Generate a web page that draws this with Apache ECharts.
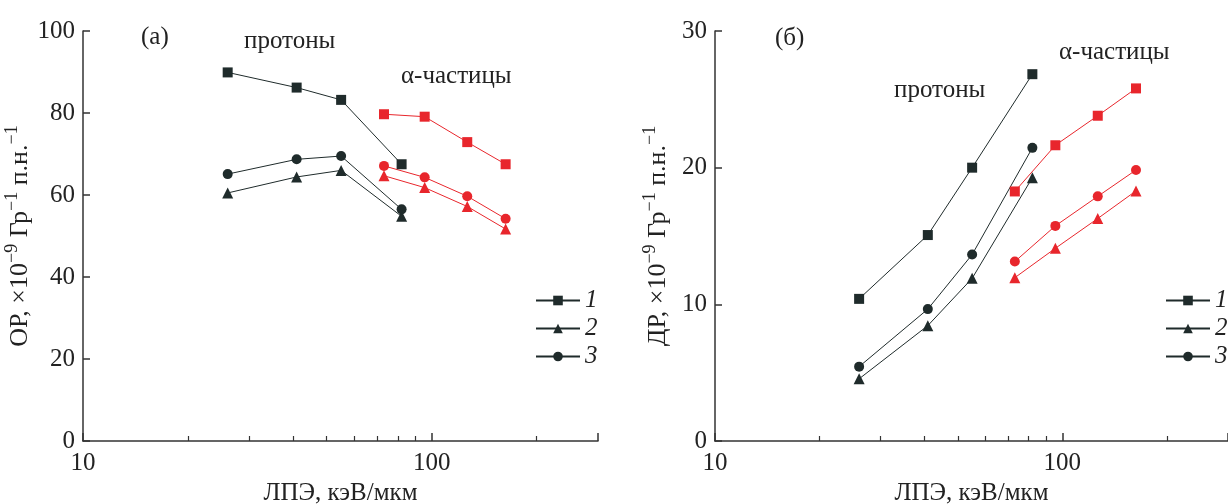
<!DOCTYPE html>
<html>
<head>
<meta charset="utf-8">
<script src="https://cdn.jsdelivr.net/npm/echarts@6/dist/echarts.min.js"></script>
<style>
    html, body { margin: 0; padding: 0; background: #fff; }
    #main { width: 1228px; height: 504px; }
</style>
</head>
<body>
<div id="main"></div>
<script>
    // ЛПЭ, кэВ/мкм
    var letProtons = [26, 41, 55, 82];
    var letAlpha = [73, 95.5, 126.5, 163];

    // (а) ОР
    var orProt1 = [89.9, 86.2, 83.2, 67.5];
    var orProt2 = [60.5, 64.4, 66.0, 54.8];
    var orProt3 = [65.1, 68.7, 69.5, 56.5];
    var orAlpha1 = [79.7, 79.1, 72.9, 67.5];
    var orAlpha2 = [64.7, 61.8, 57.2, 51.7];
    var orAlpha3 = [67.1, 64.3, 59.7, 54.2];

    // (б) ДР
    var drProt1 = [10.4, 15.07, 20.0, 26.84];
    var drProt2 = [4.55, 8.44, 11.9, 19.27];
    var drProt3 = [5.44, 9.65, 13.64, 21.45];
    var drAlpha1 = [18.26, 21.64, 23.8, 25.8];
    var drAlpha2 = [11.95, 14.1, 16.28, 18.3];
    var drAlpha3 = [13.13, 15.74, 17.9, 19.83];

    var majorX = [10, 100];
    var minorX = [20, 30, 40, 50, 60, 70, 80, 90, 200];
    var legendNames = ['1', '2', '3'];

    var dark = '#1f2b2b';
    var red = '#e8262c';
    var font = '"Liberation Serif", "DejaVu Serif", serif';

    function pairs(xs, ys) {
        return xs.map(function (x, i) { return [x, ys[i]]; });
    }

    function xAxes(grid) {
        return [{
            gridIndex: grid, type: 'log', logBase: 10, min: 10, max: 300, position: 'bottom',
            name: 'ЛПЭ, кэВ/мкм', nameLocation: 'middle', nameGap: 40,
            nameTextStyle: { fontFamily: font, fontSize: 25, color: '#222' },
            axisLine: { lineStyle: { color: '#333', width: 1.5 } },
            axisTick: { inside: true, length: 8, customValues: majorX.concat([300]), lineStyle: { color: '#333', width: 1.5 } },
            axisLabel: { customValues: majorX, fontFamily: font, fontSize: 25, color: '#222', margin: 10 },
            splitLine: { show: false }
        }, {
            // minor ticks
            gridIndex: grid, type: 'log', logBase: 10, min: 10, max: 300, position: 'bottom',
            axisLine: { show: false },
            axisTick: { inside: true, length: 5, customValues: minorX, lineStyle: { color: '#333', width: 1.2 } },
            axisLabel: { show: false },
            splitLine: { show: false }
        }];
    }

    function yAxis(grid, max, step, first, gap) {
        return {
            gridIndex: grid, type: 'value', min: 0, max: max, interval: step,
            name: '{a|' + first + ', ×10}{s|−9}{a| Гр}{s|−1}{a| п.н.}{s|−1}',
            nameLocation: 'middle', nameGap: gap, nameRotate: 90,
            nameTextStyle: {
                rich: {
                    a: { fontFamily: font, fontSize: 26, color: '#222', lineHeight: 30, verticalAlign: 'bottom' },
                    s: { fontFamily: font, fontSize: 18, color: '#222', lineHeight: 30, verticalAlign: 'top' }
                }
            },
            axisLine: { show: true, lineStyle: { color: '#333', width: 1.5 } },
            axisTick: { show: true, inside: true, length: 7, lineStyle: { color: '#333', width: 1.5 } },
            axisLabel: { fontFamily: font, fontSize: 25, color: '#222', margin: 8 },
            splitLine: { show: false }
        };
    }

    function line(name, grid, xs, ys, symbol, size, color) {
        return {
            name: name, type: 'line', xAxisIndex: grid * 2, yAxisIndex: grid,
            data: pairs(xs, ys), symbol: symbol, symbolSize: size,
            lineStyle: { color: color, width: 1 },
            itemStyle: { color: color },
            silent: true, animation: false
        };
    }

    function legend(left) {
        return {
            data: legendNames, orient: 'vertical', left: left, top: 283,
            itemWidth: 44, itemHeight: 12, itemGap: 3,
            textStyle: { fontFamily: font, fontSize: 25, fontStyle: 'italic', color: '#222' }
        };
    }

    var chart = echarts.init(document.getElementById('main'));

    var option = {
        animation: false,
        grid: [
            { left: 83, right: 630, top: 31, bottom: 63, outerBoundsMode: 'none' },
            { left: 715, right: 0, top: 31, bottom: 63, outerBoundsMode: 'none' }
        ],
        xAxis: xAxes(0).concat(xAxes(1)),
        yAxis: [yAxis(0, 100, 20, 'ОР', 34), yAxis(1, 30, 10, 'ДР', 44)],
        legend: [legend(530), legend(1160)],
        graphic: [
            { type: 'text', left: 141, top: 25, style: { text: '(а)', font: '25px ' + font, fill: '#222' } },
            { type: 'text', left: 244, top: 29, style: { text: 'протоны', font: '25px ' + font, fill: '#222' } },
            { type: 'text', left: 401, top: 64, style: { text: 'α-частицы', font: '25px ' + font, fill: '#222' } },
            { type: 'text', left: 775, top: 26, style: { text: '(б)', font: '25px ' + font, fill: '#222' } },
            { type: 'text', left: 894, top: 78, style: { text: 'протоны', font: '25px ' + font, fill: '#222' } },
            { type: 'text', left: 1059, top: 40, style: { text: 'α-частицы', font: '25px ' + font, fill: '#222' } }
        ],
        series: [
            line('1', 0, letProtons, orProt1, 'rect', 10, dark),
            line('2', 0, letProtons, orProt2, 'triangle', 11, dark),
            line('3', 0, letProtons, orProt3, 'circle', 10, dark),
            line('1', 0, letAlpha, orAlpha1, 'rect', 10, red),
            line('2', 0, letAlpha, orAlpha2, 'triangle', 11, red),
            line('3', 0, letAlpha, orAlpha3, 'circle', 10, red),
            line('1', 1, letProtons, drProt1, 'rect', 10, dark),
            line('2', 1, letProtons, drProt2, 'triangle', 11, dark),
            line('3', 1, letProtons, drProt3, 'circle', 10, dark),
            line('1', 1, letAlpha, drAlpha1, 'rect', 10, red),
            line('2', 1, letAlpha, drAlpha2, 'triangle', 11, red),
            line('3', 1, letAlpha, drAlpha3, 'circle', 10, red)
        ]
    };
    chart.setOption(option);
</script>
</body>
</html>
